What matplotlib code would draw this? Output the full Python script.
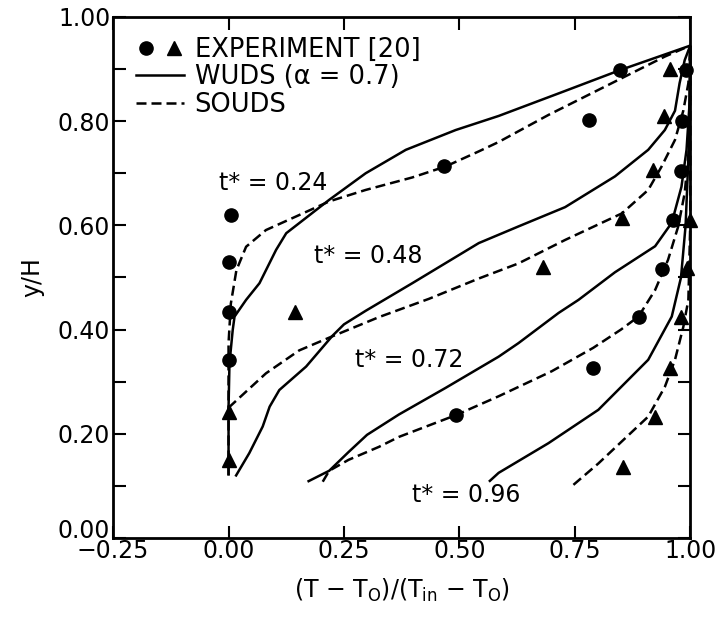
import matplotlib
matplotlib.use("Agg")
import matplotlib.pyplot as plt
from matplotlib.ticker import MultipleLocator, FuncFormatter
from matplotlib.lines import Line2D
from matplotlib.legend_handler import HandlerTuple

# WUDS (solid) and SOUDS (dashed) profiles for each t*
wuds_024_x = [0.0, 0.0, 0.002, 0.009, 0.013, 0.038, 0.067, 0.103, 0.125, 0.218, 0.297, 0.384, 0.492, 0.585, 0.72, 0.848, 1.0]
wuds_024_y = [0.12, 0.25, 0.335, 0.399, 0.425, 0.457, 0.489, 0.553, 0.585, 0.649, 0.70, 0.745, 0.783, 0.81, 0.855, 0.898, 0.945]
souds_024_x = [0.0, 0.0, 0.0, 0.005, 0.017, 0.038, 0.081, 0.146, 0.218, 0.297, 0.398, 0.47, 0.542, 0.585, 0.693, 0.801, 0.873, 0.945, 1.0]
souds_024_y = [0.12, 0.30, 0.374, 0.45, 0.514, 0.559, 0.591, 0.617, 0.646, 0.668, 0.692, 0.713, 0.742, 0.76, 0.812, 0.86, 0.892, 0.924, 0.945]

wuds_048_x = [0.015, 0.045, 0.074, 0.089, 0.11, 0.168, 0.225, 0.25, 0.297, 0.398, 0.542, 0.628, 0.729, 0.837, 0.909, 0.945, 0.967, 0.977, 0.988, 1.0]
wuds_048_y = [0.118, 0.163, 0.214, 0.252, 0.284, 0.329, 0.388, 0.41, 0.436, 0.489, 0.566, 0.598, 0.635, 0.694, 0.745, 0.783, 0.82, 0.873, 0.917, 0.945]
souds_048_x = [0.0, 0.081, 0.153, 0.222, 0.326, 0.434, 0.542, 0.628, 0.729, 0.852, 0.909, 0.938, 0.967, 0.985, 0.996, 1.0]
souds_048_y = [0.25, 0.316, 0.36, 0.386, 0.424, 0.459, 0.498, 0.527, 0.572, 0.623, 0.668, 0.713, 0.764, 0.82, 0.873, 0.945]

wuds_072_x = [0.171, 0.218, 0.26, 0.30, 0.369, 0.47, 0.585, 0.628, 0.715, 0.758, 0.837, 0.924, 0.96, 0.981, 0.992, 0.999, 1.0]
wuds_072_y = [0.108, 0.129, 0.165, 0.198, 0.237, 0.288, 0.348, 0.374, 0.432, 0.457, 0.51, 0.56, 0.605, 0.674, 0.745, 0.84, 0.945]
souds_072_x = [0.204, 0.218, 0.26, 0.326, 0.369, 0.493, 0.585, 0.70, 0.79, 0.85, 0.888, 0.924, 0.952, 0.974, 0.988, 0.997, 1.0, 1.0]
souds_072_y = [0.108, 0.129, 0.15, 0.175, 0.194, 0.236, 0.272, 0.32, 0.365, 0.40, 0.425, 0.476, 0.534, 0.598, 0.662, 0.745, 0.85, 0.945]

wuds_096_x = [0.564, 0.585, 0.693, 0.801, 0.909, 0.96, 0.98, 0.99, 0.997, 1.0]
wuds_096_y = [0.108, 0.125, 0.182, 0.246, 0.342, 0.425, 0.50, 0.60, 0.75, 0.945]
souds_096_x = [0.747, 0.801, 0.855, 0.909, 0.945, 0.967, 0.985, 0.996, 1.0, 1.0]
souds_096_y = [0.102, 0.143, 0.188, 0.233, 0.29, 0.342, 0.405, 0.457, 0.60, 0.945]

# experiment [20]
exp_024_x = [0.002, 0.002, 0.002, 0.006, 0.467, 0.781, 0.848]
exp_024_y = [0.342, 0.434, 0.53, 0.62, 0.713, 0.802, 0.898]
exp_048_x = [0.0, 0.0, 0.143, 0.681, 0.852, 0.92, 0.943, 0.956]
exp_048_y = [0.15, 0.242, 0.434, 0.521, 0.614, 0.706, 0.809, 0.90]
exp_072_x = [0.493, 0.79, 0.889, 0.938, 0.963, 0.981, 0.983, 0.99]
exp_072_y = [0.236, 0.326, 0.425, 0.516, 0.61, 0.705, 0.80, 0.898]
exp_096_x = [0.855, 0.924, 0.956, 0.979, 0.992, 0.999]
exp_096_y = [0.137, 0.233, 0.326, 0.424, 0.518, 0.61]

labels = ["t* = 0.24", "t* = 0.48", "t* = 0.72", "t* = 0.96"]
label_x = [0.097, 0.302, 0.391, 0.514]
label_y = [0.681, 0.541, 0.342, 0.083]

FS = 17
LW = 1.8
DASH = (0, (4, 2))

fig = plt.figure(figsize=(7.16, 6.26), dpi=100)
ax = fig.add_axes([0.158, 0.1406, 0.806, 0.8323])

solids = [(wuds_024_x, wuds_024_y), (wuds_048_x, wuds_048_y),
          (wuds_072_x, wuds_072_y), (wuds_096_x, wuds_096_y)]
dashes = [(souds_024_x, souds_024_y), (souds_048_x, souds_048_y),
          (souds_072_x, souds_072_y), (souds_096_x, souds_096_y)]
for x, y in solids:
    ax.plot(x, y, color="black", lw=LW, solid_capstyle="butt", clip_on=False)
for x, y in dashes:
    ax.plot(x, y, color="black", lw=LW, linestyle=DASH, clip_on=False)

ms = 9.5
for x, y in [(exp_024_x, exp_024_y), (exp_072_x, exp_072_y)]:
    ax.plot(x, y, "o", color="black", ms=ms, clip_on=False)
for x, y in [(exp_048_x, exp_048_y), (exp_096_x, exp_096_y)]:
    ax.plot(x, y, "^", color="black", ms=ms + 1, clip_on=False)

for t, x, y in zip(labels, label_x, label_y):
    ax.text(x, y, t, fontsize=FS, ha="center", va="center")

ax.set_xlim(-0.25, 1.0)
ax.set_ylim(0.0, 1.0)
ax.xaxis.set_major_locator(MultipleLocator(0.25))
ax.yaxis.set_major_locator(MultipleLocator(0.2))
ax.yaxis.set_minor_locator(MultipleLocator(0.1))
ax.xaxis.set_major_formatter(FuncFormatter(lambda v, p: f"{v:.2f}".replace("-", "\u2212")))
# the "0.00" y label is drawn separately, lifted a bit above its tick as in the original
ax.yaxis.set_major_formatter(FuncFormatter(lambda v, p: "" if abs(v) < 1e-9 else f"{v:.2f}"))
ax.tick_params(which="both", direction="in", top=True, right=True,
               length=9, width=1.5, labelsize=FS)
ax.tick_params(axis="x", pad=1)
ax.tick_params(axis="y", pad=2)
for s in ax.spines.values():
    s.set_linewidth(2.0)
ax.annotate("0.00", xy=(0, 0), xycoords="axes fraction", xytext=(-2, 5),
            textcoords="offset points", ha="right", va="center", fontsize=FS)

ax.set_xlabel(r"(T $-$ T$_{\rm O}$)/(T$_{\rm in}$ $-$ T$_{\rm O}$)", fontsize=FS, labelpad=10)
ax.set_ylabel("y/H", fontsize=FS, labelpad=10)

h_exp = (Line2D([], [], marker="o", ls="none", color="black", ms=ms),
         Line2D([], [], marker="^", ls="none", color="black", ms=ms + 1))
h_wuds = Line2D([], [], color="black", lw=LW)
h_souds = Line2D([], [], color="black", lw=LW, linestyle=DASH)
ax.legend([h_exp, h_wuds, h_souds],
          ["EXPERIMENT [20]", "WUDS (α = 0.7)", "SOUDS"],
          handler_map={tuple: HandlerTuple(ndivide=None, pad=0.3)},
          loc="upper left", bbox_to_anchor=(0.03, 0.972), frameon=False,
          fontsize=18.5, handlelength=1.9, handletextpad=0.4,
          labelspacing=0.07, borderpad=0.2, borderaxespad=0.0)

fig.savefig("out.png", dpi=100)
